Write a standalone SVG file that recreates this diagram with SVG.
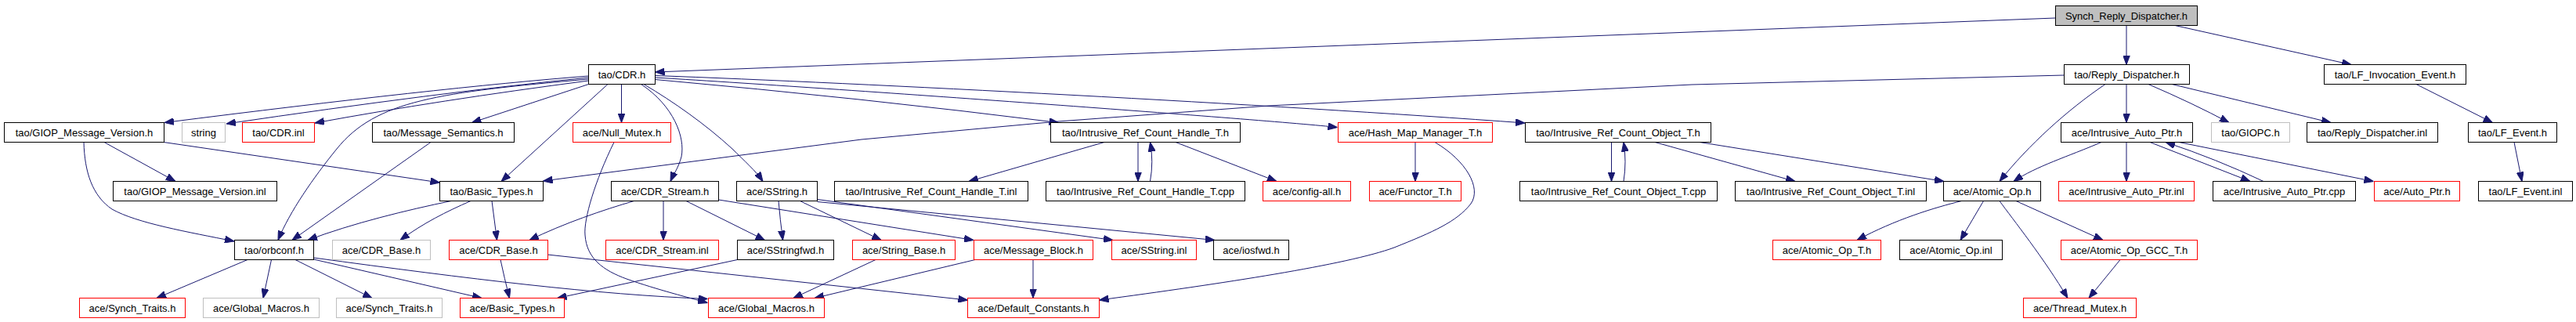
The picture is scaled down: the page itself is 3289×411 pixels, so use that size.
<svg xmlns="http://www.w3.org/2000/svg" width="3289" height="411" viewBox="0 0 3289 411">
<style>
rect{fill:#fff;stroke:#000;stroke-width:1}
rect.r{stroke:#ff0000}
rect.g{stroke:#bfbfbf}
rect.top{fill:#bfbfbf}
text{font-family:"Liberation Sans",Arial,sans-serif;font-size:13px;fill:#000;text-anchor:middle}
#edges path{fill:none;stroke:#191970;stroke-width:1;marker-end:url(#a)}
</style>
<defs>
<marker id="a" viewBox="0 0 12 9" refX="12" refY="4.5" markerWidth="12" markerHeight="9" orient="auto" markerUnits="userSpaceOnUse">
<path d="M0,0 L12,4.5 L0,9 z" fill="#191970" stroke="#191970" stroke-width="1"/>
</marker>
</defs>
<rect x="0" y="0" width="3289" height="411" style="fill:#fff;stroke:none"/>
<g id="edges">
<path d="M2715,32.5 L2715,82.5"/>
<path d="M2777,32.5 L3002,82.5"/>
<path d="M2624,23 L836.5,92"/>
<path d="M2715,107.5 L2715,156.5"/>
<path d="M2743,107.5 Q2800,132 2846,156.5"/>
<path d="M2773,107.5 L2976,156.5"/>
<path d="M2688,107.5 C2640,140 2590,185 2553,231.5"/>
<path d="M2635,96 L2160,108 L1620,135 L1351,155 L1100,178 L693.5,231"/>
<path d="M2683,181.5 C2640,200 2600,212 2571,231.5"/>
<path d="M2715,181.5 L2715,231.5"/>
<path d="M2745,181.5 L2873,231.5"/>
<path d="M2890,231.5 Q2830,203 2765,181.5"/>
<path d="M2782,181.5 L3030.5,231.5"/>
<path d="M3085,107.5 L3182.5,156.5"/>
<path d="M3210,181.5 L3220,231.5"/>
<path d="M2057.5,181.5 L2057.5,231.5"/>
<path d="M2073,231.5 Q2077,206 2073,181.5"/>
<path d="M1453,181.5 L1453,231.5"/>
<path d="M1468.5,231.5 Q1473,206 1468.5,181.5"/>
<path d="M2113,181.5 L2292,231.5"/>
<path d="M2170,181.5 L2482,231.5"/>
<path d="M1410,181.5 L1237,231.5"/>
<path d="M1501,181.5 L1630,231.5"/>
<path d="M1807,181.5 L1807,231.5"/>
<path d="M1832,181.5 C1872,205 1892,240 1878,260 C1860,283 1830,296 1780,316 C1720,338 1560,362 1403.5,383"/>
<path d="M751.5,97 Q560,112 210,156.5"/>
<path d="M751.5,99 Q560,118 289,158"/>
<path d="M751.5,101 C560,118 480,128 430,190 C400,227 370,270 355,306.5"/>
<path d="M751.5,103 Q560,128 402,157"/>
<path d="M751.5,107.5 L602.5,156.5"/>
<path d="M776,107.5 L640,231.5"/>
<path d="M793.5,107.5 L793.5,156.5"/>
<path d="M818.5,107.5 C860,135 875,175 870,200 C866,215 860,222 856,231.5"/>
<path d="M822,107.5 C860,130 900,158 935,190 C950,205 965,218 974,231.5"/>
<path d="M836.5,101.5 Q1100,125 1351.5,156.5"/>
<path d="M836.5,99 C1100,115 1620,153 1707.5,162.5"/>
<path d="M836.5,96.5 C1100,106 1620,133 1947,157"/>
<path d="M133,181.5 L224,231.5"/>
<path d="M107,181.5 C108,220 118,250 143,267 C175,285 240,296 299,308"/>
<path d="M209,181.5 L561.5,233"/>
<path d="M550,181.5 L373,306.5"/>
<path d="M576,256.5 C520,268 450,285 393,306.5"/>
<path d="M601,256.5 C570,270 540,285 511,306.5"/>
<path d="M628,256.5 L634.5,306.5"/>
<path d="M809.5,256.5 C770,268 720,285 676,306.5"/>
<path d="M847,256.5 L847,306.5"/>
<path d="M876,256.5 L976.5,306.5"/>
<path d="M917.5,255 L1243,306.5"/>
<path d="M994,256.5 Q996,280 999.5,306.5"/>
<path d="M1021.5,256.5 L1125,306.5"/>
<path d="M1043.5,254.5 L1421,306.5"/>
<path d="M1043.5,257.5 L1551,306.5"/>
<path d="M941.5,331.5 L711.5,380.5"/>
<path d="M639,331.5 Q644,355 650.5,380.5"/>
<path d="M699,325 L1235.5,383"/>
<path d="M316,331.5 L200,380.5"/>
<path d="M346.5,331.5 L336,380.5"/>
<path d="M377,331.5 L475,380.5"/>
<path d="M400.5,331 L615,380.5"/>
<path d="M400.5,329 C600,356 760,376 903.5,381.5"/>
<path d="M784,181.5 C760,230 745,280 747,300 C749,330 770,345 800,356 C840,370 880,380 903.5,386.5"/>
<path d="M1118,331.5 L1013,380.5"/>
<path d="M1245,331.5 L1040,380.5"/>
<path d="M1319,331.5 L1319,380.5"/>
<path d="M2504.5,256.5 C2470,265 2420,280 2371,306.5"/>
<path d="M2532.5,256.5 L2503,306.5"/>
<path d="M2553,256.5 C2570,280 2610,330 2640,380.5"/>
<path d="M2574,256.5 L2685,306.5"/>
<path d="M2707,331.5 L2667,380.5"/>
</g>
<g id="n1"><rect class="top" x="2624.5" y="7.5" width="181" height="25"/><text x="2715" y="25">Synch_Reply_Dispatcher.h</text></g>
<g id="n2"><rect x="751.5" y="82.5" width="85" height="25"/><text x="794" y="100">tao/CDR.h</text></g>
<g id="n3"><rect x="2635.5" y="82.5" width="160" height="25"/><text x="2715.5" y="100">tao/Reply_Dispatcher.h</text></g>
<g id="n4"><rect x="2967.5" y="82.5" width="181" height="25"/><text x="3058" y="100">tao/LF_Invocation_Event.h</text></g>
<g id="n5"><rect x="5.5" y="156.5" width="204" height="25"/><text x="107.5" y="174">tao/GIOP_Message_Version.h</text></g>
<g id="n6"><rect class="g" x="232.5" y="156.5" width="55" height="25"/><text x="260" y="174">string</text></g>
<g id="n7"><rect class="r" x="309.5" y="156.5" width="92" height="25"/><text x="355.5" y="174">tao/CDR.inl</text></g>
<g id="n8"><rect x="475.5" y="156.5" width="181" height="25"/><text x="566" y="174">tao/Message_Semantics.h</text></g>
<g id="n9"><rect class="r" x="731.5" y="156.5" width="125" height="25"/><text x="794" y="174">ace/Null_Mutex.h</text></g>
<g id="n10"><rect x="1341.5" y="156.5" width="242" height="25"/><text x="1462.5" y="174">tao/Intrusive_Ref_Count_Handle_T.h</text></g>
<g id="n11"><rect class="r" x="1708.5" y="156.5" width="197" height="25"/><text x="1807" y="174">ace/Hash_Map_Manager_T.h</text></g>
<g id="n12"><rect x="1947.5" y="156.5" width="237" height="25"/><text x="2066" y="174">tao/Intrusive_Ref_Count_Object_T.h</text></g>
<g id="n13"><rect x="2631.5" y="156.5" width="168" height="25"/><text x="2715.5" y="174">ace/Intrusive_Auto_Ptr.h</text></g>
<g id="n14"><rect class="g" x="2823.5" y="156.5" width="100" height="25"/><text x="2873.5" y="174">tao/GIOPC.h</text></g>
<g id="n15"><rect x="2945.5" y="156.5" width="167" height="25"/><text x="3029" y="174">tao/Reply_Dispatcher.inl</text></g>
<g id="n16"><rect x="3151.5" y="156.5" width="113" height="25"/><text x="3208" y="174">tao/LF_Event.h</text></g>
<g id="n17"><rect x="144.5" y="231.5" width="209" height="25"/><text x="249" y="249">tao/GIOP_Message_Version.inl</text></g>
<g id="n18"><rect x="561.5" y="231.5" width="132" height="25"/><text x="627.5" y="249">tao/Basic_Types.h</text></g>
<g id="n19"><rect x="780.5" y="231.5" width="137" height="25"/><text x="849" y="249">ace/CDR_Stream.h</text></g>
<g id="n20"><rect x="940.5" y="231.5" width="103" height="25"/><text x="992" y="249">ace/SString.h</text></g>
<g id="n21"><rect x="1065.5" y="231.5" width="247" height="25"/><text x="1189" y="249">tao/Intrusive_Ref_Count_Handle_T.inl</text></g>
<g id="n22"><rect x="1335.5" y="231.5" width="254" height="25"/><text x="1462.5" y="249">tao/Intrusive_Ref_Count_Handle_T.cpp</text></g>
<g id="n23"><rect class="r" x="1612.5" y="231.5" width="112" height="25"/><text x="1668.5" y="249">ace/config-all.h</text></g>
<g id="n24"><rect class="r" x="1748.5" y="231.5" width="117" height="25"/><text x="1807" y="249">ace/Functor_T.h</text></g>
<g id="n25"><rect x="1940.5" y="231.5" width="252" height="25"/><text x="2066.5" y="249">tao/Intrusive_Ref_Count_Object_T.cpp</text></g>
<g id="n26"><rect x="2215.5" y="231.5" width="244" height="25"/><text x="2337.5" y="249">tao/Intrusive_Ref_Count_Object_T.inl</text></g>
<g id="n27"><rect x="2481.5" y="231.5" width="124" height="25"/><text x="2543.5" y="249">ace/Atomic_Op.h</text></g>
<g id="n28"><rect class="r" x="2628.5" y="231.5" width="173" height="25"/><text x="2715" y="249">ace/Intrusive_Auto_Ptr.inl</text></g>
<g id="n29"><rect x="2825.5" y="231.5" width="182" height="25"/><text x="2916.5" y="249">ace/Intrusive_Auto_Ptr.cpp</text></g>
<g id="n30"><rect class="r" x="3031.5" y="231.5" width="109" height="25"/><text x="3086" y="249">ace/Auto_Ptr.h</text></g>
<g id="n31"><rect x="3164.5" y="231.5" width="120" height="25"/><text x="3224.5" y="249">tao/LF_Event.inl</text></g>
<g id="n32"><rect x="299.5" y="306.5" width="101" height="25"/><text x="350" y="324">tao/orbconf.h</text></g>
<g id="n33"><rect class="g" x="424.5" y="306.5" width="125" height="25"/><text x="487" y="324">ace/CDR_Base.h</text></g>
<g id="n34"><rect class="r" x="573.5" y="306.5" width="126" height="25"/><text x="636.5" y="324">ace/CDR_Base.h</text></g>
<g id="n35"><rect class="r" x="773.5" y="306.5" width="144" height="25"/><text x="845.5" y="324">ace/CDR_Stream.inl</text></g>
<g id="n36"><rect x="941.5" y="306.5" width="123" height="25"/><text x="1003" y="324">ace/SStringfwd.h</text></g>
<g id="n37"><rect class="r" x="1088.5" y="306.5" width="131" height="25"/><text x="1154" y="324">ace/String_Base.h</text></g>
<g id="n38"><rect class="r" x="1243.5" y="306.5" width="152" height="25"/><text x="1319.5" y="324">ace/Message_Block.h</text></g>
<g id="n39"><rect class="r" x="1419.5" y="306.5" width="108" height="25"/><text x="1473.5" y="324">ace/SString.inl</text></g>
<g id="n40"><rect x="1549.5" y="306.5" width="96" height="25"/><text x="1597.5" y="324">ace/iosfwd.h</text></g>
<g id="n41"><rect class="r" x="2263.5" y="306.5" width="138" height="25"/><text x="2332.5" y="324">ace/Atomic_Op_T.h</text></g>
<g id="n42"><rect x="2425.5" y="306.5" width="131" height="25"/><text x="2491" y="324">ace/Atomic_Op.inl</text></g>
<g id="n43"><rect class="r" x="2631.5" y="306.5" width="174" height="25"/><text x="2718.5" y="324">ace/Atomic_Op_GCC_T.h</text></g>
<g id="n44"><rect class="r" x="101.5" y="380.5" width="135" height="25"/><text x="169" y="398">ace/Synch_Traits.h</text></g>
<g id="n45"><rect class="g" x="259.5" y="380.5" width="148" height="25"/><text x="333.5" y="398">ace/Global_Macros.h</text></g>
<g id="n46"><rect class="g" x="429.5" y="380.5" width="135" height="25"/><text x="497" y="398">ace/Synch_Traits.h</text></g>
<g id="n47"><rect class="r" x="587.5" y="380.5" width="133" height="25"/><text x="654" y="398">ace/Basic_Types.h</text></g>
<g id="n48"><rect class="r" x="904.5" y="380.5" width="148" height="25"/><text x="978.5" y="398">ace/Global_Macros.h</text></g>
<g id="n49"><rect class="r" x="1235.5" y="380.5" width="168" height="25"/><text x="1319.5" y="398">ace/Default_Constants.h</text></g>
<g id="n50"><rect class="r" x="2583.5" y="380.5" width="144" height="25"/><text x="2655.5" y="398">ace/Thread_Mutex.h</text></g>
</svg>
